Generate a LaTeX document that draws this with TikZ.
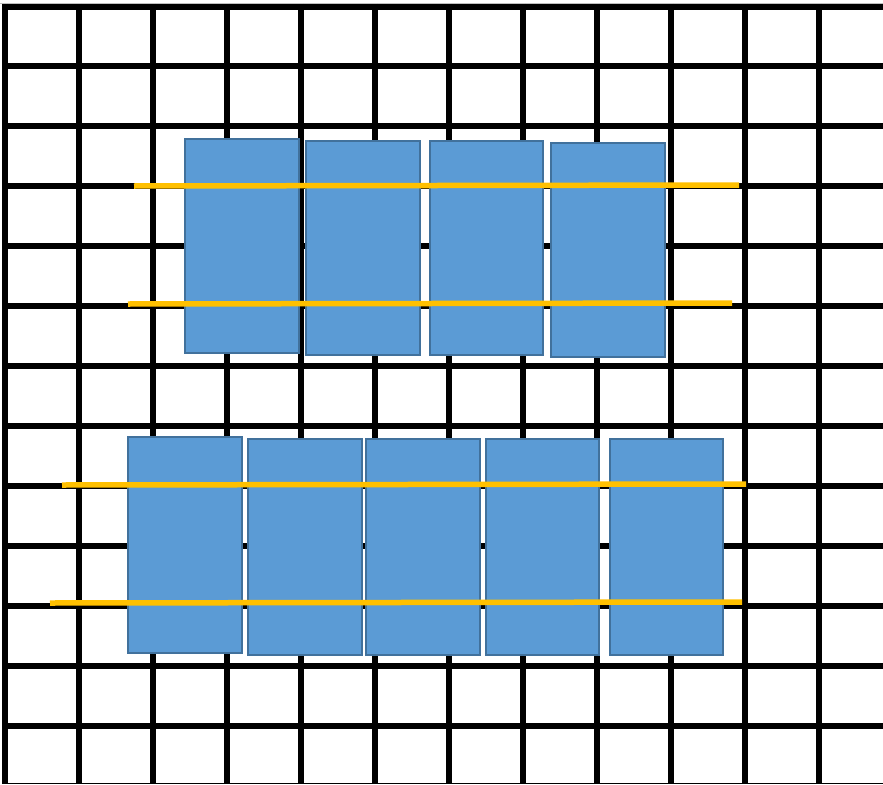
\documentclass[tikz,border=0pt]{standalone}
\usepackage{xcolor}
\definecolor{blkfill}{HTML}{5B9BD5}
\definecolor{blkedge}{HTML}{41719C}
\definecolor{rail}{HTML}{FFC000}
\begin{document}
\begin{tikzpicture}[x=1pt,y=-1pt,
  gridline/.style={line width=6pt,black},
  blk/.style={draw=blkedge,fill=blkfill,line width=2pt,inner sep=0pt,outer sep=0pt,anchor=north west},
  railline/.style={draw=rail,line width=5.5pt}]
\path[use as bounding box,fill=white] (0,0) rectangle (883,784);
% top thin grey line and bottom thin line
\draw[gray!50,line width=1pt] (0,4) -- (883,4);
\draw[black,line width=1pt] (3,783.5) -- (883,783.5);
% grid
\foreach \x in {5,79,153,227,301,375,449,523,597,671,745,819}
  \draw[gridline] (\x,4) -- (\x,784);
\foreach \y in {7,66,126,186,246,306,366,426,486,546,606,666,726}
  \draw[gridline] (2,\y) -- (883,\y);
% top row blocks
\node[blk,minimum width=114pt,minimum height=214pt] (t1) at (185,139) {};
\node[blk,minimum width=114pt,minimum height=214pt] (t2) at (306,141) {};
\node[blk,minimum width=113pt,minimum height=214pt] (t3) at (430,141) {};
\node[blk,minimum width=114pt,minimum height=214pt] (t4) at (551,143) {};
% bottom row blocks
\node[blk,minimum width=114pt,minimum height=216pt] (b1) at (128,437) {};
\node[blk,minimum width=114pt,minimum height=216pt] (b2) at (248,439) {};
\node[blk,minimum width=114pt,minimum height=216pt] (b3) at (366,439) {};
\node[blk,minimum width=113pt,minimum height=216pt] (b4) at (486,439) {};
\node[blk,minimum width=113pt,minimum height=216pt] (b5) at (610,439) {};
% rails
\coordinate (r1a) at (134,186); \coordinate (r1b) at (739,185);
\coordinate (r2a) at (128,304); \coordinate (r2b) at (732,303);
\coordinate (r3a) at (62,485);  \coordinate (r3b) at (746,484);
\coordinate (r4a) at (50,603);  \coordinate (r4b) at (742,602);
\draw[railline] (r1a) -- (r1b);
\draw[railline] (r2a) -- (r2b);
\draw[railline] (r3a) -- (r3b);
\draw[railline] (r4a) -- (r4b);
\end{tikzpicture}
\end{document}
